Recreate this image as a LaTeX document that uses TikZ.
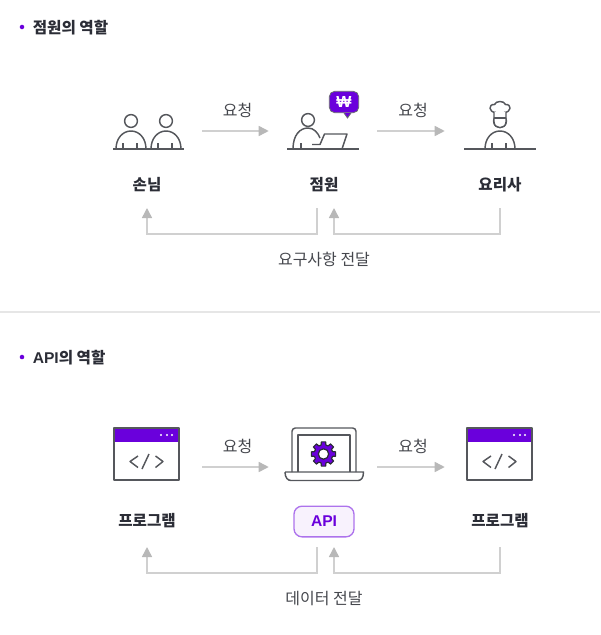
\documentclass[tikz,border=0pt]{standalone}
\usepackage{fontspec}
\setmainfont{Noto Sans CJK KR}
\newfontfamily\latinfont{Liberation Sans}
\usetikzlibrary{arrows.meta,positioning}
\definecolor{ink}{HTML}{2B2D36}
\definecolor{soft}{HTML}{45474D}
\definecolor{icon}{HTML}{55575C}
\definecolor{brand}{HTML}{6A00DC}
\definecolor{flowgray}{HTML}{D0D0D0}
\definecolor{tipgray}{HTML}{B8B8B8}
\definecolor{rulegray}{HTML}{E6E6E6}
\tikzset{
  person/.pic={
    \draw[iconline] (0,-28) circle (6.4);
    \draw[iconline] (-15,0) .. controls (-15,-11) and (-8,-18) .. (0,-18) .. controls (8,-18) and (15,-11) .. (15,0);
    \draw[iconline] (-8,-6) -- (-8,0) (6,-6) -- (6,0);
  },
  appwindow/.pic={
    \fill[brand] (0,0) rectangle (65,14);
    \draw[iconline] (0,0) rectangle (65,52);
    \foreach \dotx in {47,53,58} \fill[white] (\dotx,7) circle (1.1);
    \draw[iconline] (24,28) -- (16,33.5) -- (24,39.5) (41.5,28) -- (49,33.5) -- (41.5,39.5) (35,26) -- (28,41);
  },
  gearwheel/.pic={
    \draw[draw=ink,fill=brand,line width=0.9pt,line join=round,even odd rule]
      (-15:9.3) \foreach \ang in {0,45,...,315} {
        -- (\ang-15:9.3) -- (\ang-10:12.3) -- (\ang+10:12.3) -- (\ang+15:9.3)
      } -- cycle (0,0) circle (5.2);
  }
}
\begin{document}
\begin{tikzpicture}[x=0.75pt,y=-0.75pt,font=\fontsize{12pt}{14pt}\selectfont,text=ink,
  iconline/.style={draw=icon,line width=1.1pt,line join=round},
  iconbox/.style={minimum width=81pt,minimum height=30pt,inner sep=0pt},
  titlelab/.style={font=\fontsize{11.7pt}{14pt}\selectfont\bfseries,anchor=west,inner sep=0pt},
  namelab/.style={font=\fontsize{11.7pt}{14pt}\selectfont\bfseries,inner sep=0pt},
  plainlab/.style={inner sep=0pt,text=soft},
  bullet/.style={circle,fill=brand,inner sep=0pt,minimum size=3.4pt},
  flow/.style={draw=flowgray,line width=1.1pt,-{Triangle[length=7.5pt,width=7.5pt,color=tipgray]}},
  wonbubble/.style={draw=ink!70,fill=brand,line width=0.6pt,rounded corners=4pt,minimum width=22pt,minimum height=16pt,inner sep=0pt,text=white,font=\latinfont\bfseries\fontsize{12pt}{12pt}\selectfont},
  apibadge/.style={draw=brand!55,fill=brand!5,line width=1pt,rounded corners=6pt,minimum width=45pt,minimum height=23pt,inner sep=0pt,text=brand,font=\latinfont\bfseries\fontsize{11.7pt}{14pt}\selectfont}]
\useasboundingbox (0,0) rectangle (600,635);
% first panel
\node[bullet] (dotA) at (22,27) {};
\node[titlelab,right=6pt of dotA,yshift=-0.7pt] (titleA) {점원의 역할};
\node[iconbox] (guest) at (148,131) {};
\node[iconbox] (clerk) at (323,131) {};
\node[iconbox] (chef) at (499,131) {};
\node[namelab] (guestlab) at (147,185) {손님};
\node[namelab] (clerklab) at (324,185) {점원};
\node[namelab] (cheflab) at (500,185) {요리사};
\draw[flow] (guest) -- node[plainlab,above=9.5pt,xshift=1.5pt]{요청} (clerk);
\draw[flow] (clerk) -- node[plainlab,above=9.5pt,xshift=1.5pt]{요청} (chef);
% guests
\draw[iconline] (113,149) -- (184,149);
\pic at (131,149) {person};
\pic at (166,149) {person};
% clerk with laptop
\draw[iconline] (287,149) -- (359,149);
\draw[iconline] (308,120) circle (6.4);
\draw[iconline] (293,149) .. controls (293,135) and (300,128) .. (308,128) .. controls (314,128) and (318,133) .. (320,138);
\draw[iconline] (301,143) -- (301,149);
\draw[iconline] (312,144.5) -- (320,144.5) -- (324.5,134) -- (347,134) -- (342,149);
\node[wonbubble] (won) at (344,102) {₩};
\draw[draw=ink!70,fill=brand,line width=0.6pt] (344,113) -- (347.5,118) -- (351,113);
% chef
\draw[iconline] (464,149) -- (536,149);
\pic at (500,149) {person};
\draw[iconline,fill=white] (496,112.5) .. controls (488.5,112.5) and (488,104) .. (494.5,104.5) .. controls (496,100.5) and (504,100.5) .. (505.5,104.5) .. controls (512,104) and (511.5,112.5) .. (504,112.5);
\draw[iconline,fill=white] (494,112) -- (494,122) .. controls (494,129.5) and (506,129.5) .. (506,122) -- (506,112);
\draw[iconline] (494,118) -- (506,118);
\coordinate (clerkoutA) at (317,208);
\coordinate (guestinA) at (147,208);
\coordinate (chefoutA) at (500,208);
\coordinate (clerkinA) at (334,208);
\draw[flow] (clerkoutA) -- ++(0,26) -| (guestinA);
\draw[flow] (chefoutA) -- ++(0,26) -| (clerkinA);
\node[plainlab] (noteA) at (324,259) {요구사항 전달};
\coordinate (ruleL) at (0,312);
\coordinate (ruleR) at (600,312);
\draw[rulegray,line width=0.9pt] (ruleL) -- (ruleR);
% second panel
\node[bullet] (dotB) at (22,357) {};
\node[titlelab,right=6pt of dotB,yshift=-0.7pt] (titleB) {{\latinfont\bfseries API}의 역할};
\node[iconbox] (progL) at (148,467) {};
\node[iconbox] (api) at (323,467) {};
\node[iconbox] (progR) at (499,467) {};
\node[namelab] (progLlab) at (147,521) {프로그램};
\node[apibadge] (apilab) at (324,521.5) {API};
\node[namelab] (progRlab) at (500,521) {프로그램};
\draw[flow] (progL) -- node[plainlab,above=9.5pt,xshift=1.5pt]{요청} (api);
\draw[flow] (api) -- node[plainlab,above=9.5pt,xshift=1.5pt]{요청} (progR);
\pic at (114,428) {appwindow};
\pic at (467,428) {appwindow};
% laptop with gear
\draw[iconline,rounded corners=2.5pt] (292,472) -- (292,428) -- (356,428) -- (356,472);
\draw[iconline] (298,472) -- (298,435) -- (350,435) -- (350,472);
\draw[iconline] (285,472) -- (363.5,472) .. controls (363.5,478) and (361,480.5) .. (358,480.5) -- (291,480.5) .. controls (288,480.5) and (285,478) .. (285,472);
\pic at (323.5,454) {gearwheel};
\coordinate (apioutB) at (317,547);
\coordinate (proginB) at (147,547);
\coordinate (progoutB) at (500,547);
\coordinate (apiinB) at (334,547);
\draw[flow] (apioutB) -- ++(0,26) -| (proginB);
\draw[flow] (progoutB) -- ++(0,26) -| (apiinB);
\node[plainlab] (noteB) at (324,599) {데이터 전달};
\end{tikzpicture}
\end{document}
